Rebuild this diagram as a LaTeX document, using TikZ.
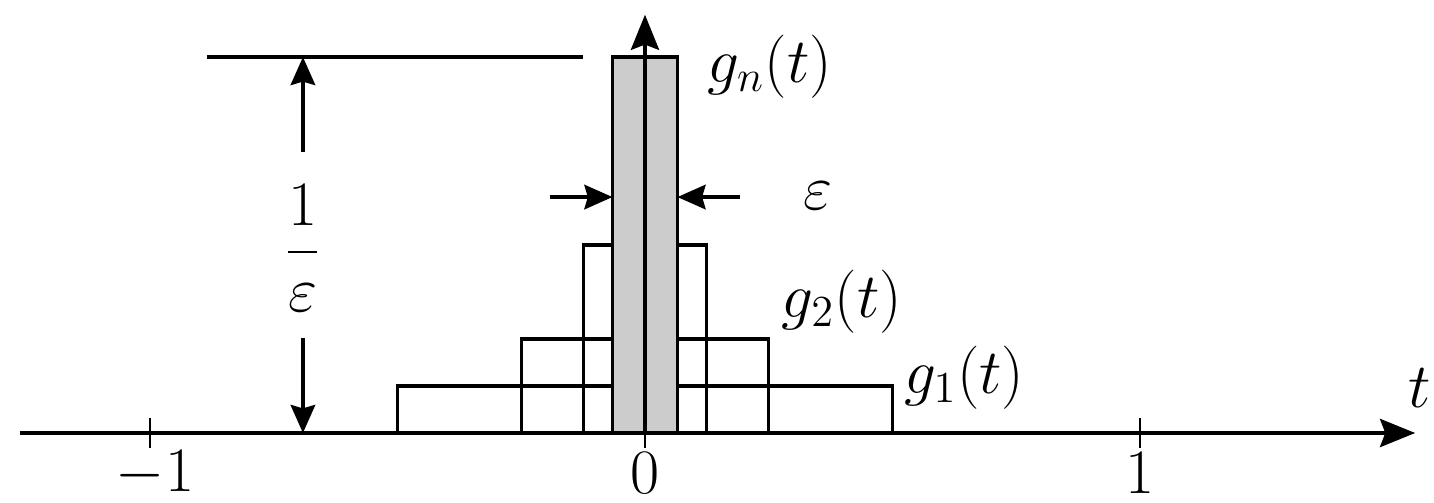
\documentclass[tikz,border=0pt]{standalone}
\usepackage{fix-cm}
\usepackage{amsmath}
\usetikzlibrary{arrows.meta}

\tikzset{
  lbl/.style={font=\fontsize{18}{22}\selectfont, inner sep=0pt},
  axe/.style={line width=1.1pt, -{Stealth[length=10pt,width=8pt,inset=1.5pt]}},
  cote/.style={line width=0.9pt, -{Stealth[length=8pt,width=7pt,inset=1pt]}},
  porte/.style={line width=0.9pt}
}

\begin{document}
\begin{tikzpicture}[x=4.95cm, y=0.47cm]

\clip (-1.303,-1.489) rectangle (1.594,9.213);
\useasboundingbox (-1.303,-1.489) rectangle (1.594,9.213);

% Portes
\draw[porte] (-0.5,0) rectangle (0.5,1);
\draw[porte] (-0.25,0) rectangle (0.25,2);
\draw[porte] (-0.125,0) rectangle (0.125,4);
\draw[porte, fill=black!20] (-0.0657,0) rectangle (0.0657,8);

% Axes
\coordinate (xdeb) at (-1.263,0);
\coordinate (xfin) at (1.556,0);
\coordinate (ydeb) at (0,0);
\coordinate (yfin) at (0,8.9);
\draw[axe] (xdeb) -- (xfin);
\draw[axe] (ydeb) -- (yfin);

\foreach \x in {-1,0,1}
{
\draw[line width=0.8pt] (\x,0.32) -- (\x,-0.32);
}

\node[lbl] (tm) at (-0.99,-0.86) {$-1$};
\node[lbl] (tz) at (0,-0.86) {$0$};
\node[lbl] (tu) at (1,-0.86) {$1$};
\node[lbl, anchor=east] (tt) at (1.59,0.95) {$t$};

% Hauteur 1/epsilon
\coordinate (hg) at (-0.885,8);
\coordinate (hd) at (-0.125,8);
\draw[porte] (hg) -- (hd);

\node[lbl] (frac) at (-0.691,3.94) {$\dfrac{1}{\varepsilon}$};
\coordinate (haut0) at (-0.691,5.98);
\coordinate (haut1) at (-0.691,8);
\coordinate (bas0) at (-0.691,2.02);
\coordinate (bas1) at (-0.691,0);
\draw[cote] (haut0) -- (haut1);
\draw[cote] (bas0) -- (bas1);

% Largeur epsilon
\coordinate (lg0) at (-0.192,5.02);
\coordinate (lg1) at (-0.0657,5.02);
\coordinate (ld0) at (0.192,5.02);
\coordinate (ld1) at (0.0657,5.02);
\draw[cote] (lg0) -- (lg1);
\draw[cote] (ld0) -- (ld1);
\node[lbl] (eps) at (0.35,5.04) {$\varepsilon$};

% Etiquettes
\node[lbl, anchor=west] (gn) at (0.125,7.8) {$g_n(t)$};
\node[lbl, anchor=west] (g2) at (0.275,2.8) {$g_2(t)$};
\node[lbl, anchor=west] (g1) at (0.522,1.18) {$g_1(t)$};

\end{tikzpicture}
\end{document}
